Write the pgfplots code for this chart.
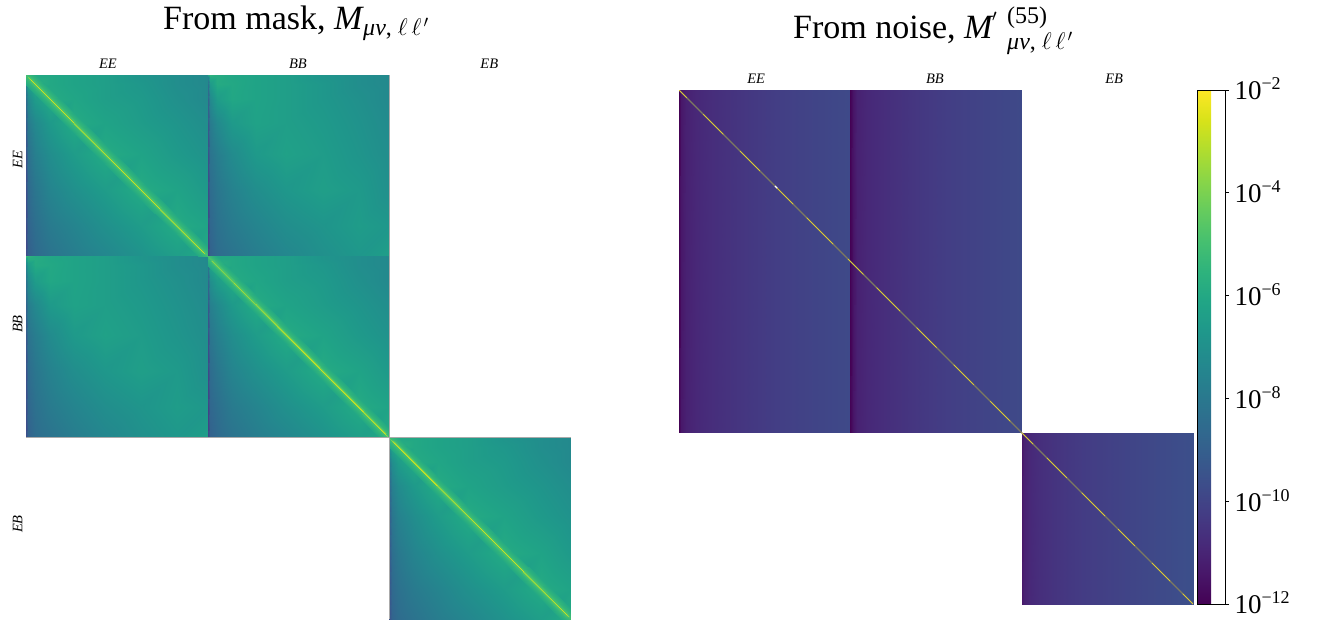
\documentclass[border=0pt]{standalone}
\usepackage{fix-cm}
\usepackage{fontspec}
\setmainfont{Liberation Serif}
\usepackage{pgfplots}
\usepackage{pgfplotstable}
\pgfplotsset{compat=1.18}
% thin ridge along the main diagonal of a diagonal block
\pgfplotstableread{
x y c
0 0 -5.0
0 0 -5.0
0 0 -5.0
0 0 -5.0
0 0 -5.0
0 0 -5.0
0 0 -5.0
0 16 -6.0
5 11 -5.35
7 9 -4.7
8 8 -2.7
9 7 -4.7
11 5 -5.35
16 0 -5.95
142 158 -6.0
147 153 -5.35
149 151 -4.7
150 150 -2.7
151 149 -4.7
153 147 -5.35
158 142 -5.95
284 300 -6.0
289 295 -5.35
291 293 -4.7
292 292 -2.7
293 291 -4.7
295 289 -5.35
300 284 -5.95
300 300 -5.0
300 300 -5.0
300 300 -5.0
300 300 -5.0
300 300 -5.0
300 300 -5.0
300 300 -5.0
}\bandtable
\pgfplotsset{
  blockstyle/.style={surf,shader=interp,mesh/cols=#1,point meta=explicit,forget plot},
  bandstyle/.style={surf,shader=interp,mesh/cols=7,point meta=explicit,forget plot},
  viridisaxis/.style={
    scale only axis,anchor=south west,xmin=0,xmax=900,ymin=0,ymax=900,y dir=reverse,
    colormap/viridis,point meta min=-12,point meta max=-2,
    axis line style={draw=none},
    xticklabel pos=top,
    xticklabels={\textit{EE},\textit{BB},\textit{EB}},
    major tick length=0pt,
    xticklabel style={font=\fontsize{14.5}{14.5}\selectfont,yshift=3pt},
  }
}
\newcommand{\cbl}[1]{10\smash{\raisebox{10pt}{\fontsize{18}{18}\selectfont −#1}}}
\newcommand{\subtxt}{\textit{μν}{,}\kern6pt$\ell$\kern4pt$\ell$\kern2pt$^{\prime}$}
\begin{document}
\begin{tikzpicture}[x=1pt,y=1pt]
\useasboundingbox (0,0) rectangle (1322,624);
\node[anchor=base west,inner sep=0pt,font=\fontsize{34}{40}\selectfont] at (163,594) {From mask, \textit{M}};
\node[anchor=base west,inner sep=0pt,font=\fontsize{24}{28}\selectfont] at (363,588) {\subtxt};
\node[anchor=base west,inner sep=0pt,font=\fontsize{34}{40}\selectfont] at (793,585) {From noise, \textit{M}};
\node[anchor=base west,inner sep=0pt,font=\fontsize{24}{28}\selectfont] at (992,594) {$^{\prime}$};
\node[anchor=base west,inner sep=0pt,font=\fontsize{24}{28}\selectfont] at (1007,600) {(55)};
\node[anchor=base west,inner sep=0pt,font=\fontsize{24}{28}\selectfont] at (1007,574) {\subtxt};
\begin{axis}[viridisaxis,at={(26pt,5pt)},width=545pt,height=544pt,
  xtick={135.4,449,765},ytick={135.6,407,738},
  yticklabels={\textit{EE},\textit{BB},\textit{EB}},
  yticklabel style={font=\fontsize{14.5}{14.5}\selectfont,rotate=90,anchor=south,xshift=-3pt},
]
% EE x EE
\addplot[blockstyle=9] coordinates {
(0,0)[-5.2] (4,0)[-5.9] (15,0)[-6.0] (40,0)[-6.05] (80,0)[-6.2] (130,0)[-6.4] (190,0)[-6.8] (250,0)[-7.1] (300,0)[-7.3]
(0,4)[-6.2] (4,4)[-5.5] (15,4)[-5.95] (40,4)[-6.0] (80,4)[-6.2] (130,4)[-6.4] (190,4)[-6.8] (250,4)[-7.1] (300,4)[-7.3]
(0,15)[-7.5] (4,15)[-6.3] (15,15)[-5.7] (40,15)[-6.0] (80,15)[-6.2] (130,15)[-6.4] (190,15)[-6.7] (250,15)[-7.1] (300,15)[-7.3]
(0,40)[-8.4] (4,40)[-7.3] (15,40)[-6.5] (40,40)[-5.9] (80,40)[-6.1] (130,40)[-6.4] (190,40)[-6.6] (250,40)[-7.0] (300,40)[-7.3]
(0,80)[-9.0] (4,80)[-7.9] (15,80)[-7.3] (40,80)[-6.6] (80,80)[-5.9] (130,80)[-6.2] (190,80)[-6.5] (250,80)[-6.8] (300,80)[-7.1]
(0,130)[-9.4] (4,130)[-8.3] (15,130)[-7.7] (40,130)[-7.1] (80,130)[-6.5] (130,130)[-5.9] (190,130)[-6.2] (250,130)[-6.6] (300,130)[-6.9]
(0,190)[-9.6] (4,190)[-8.6] (15,190)[-8.1] (40,190)[-7.5] (80,190)[-7.0] (130,190)[-6.5] (190,190)[-5.9] (250,190)[-6.2] (300,190)[-6.6]
(0,250)[-9.7] (4,250)[-8.8] (15,250)[-8.4] (40,250)[-7.9] (80,250)[-7.5] (130,250)[-7.0] (190,250)[-6.5] (250,250)[-5.9] (300,250)[-6.2]
(0,300)[-9.8] (4,300)[-9.0] (15,300)[-8.6] (40,300)[-8.2] (80,300)[-7.8] (130,300)[-7.4] (190,300)[-6.9] (250,300)[-6.4] (300,300)[-5.9]
};
% BB column, EE row
\addplot[blockstyle=9,x filter/.expression={x+300}] coordinates {
(0,0)[-6.0] (4,0)[-5.5] (15,0)[-5.85] (40,0)[-6.05] (80,0)[-6.2] (130,0)[-6.4] (190,0)[-6.8] (250,0)[-7.1] (300,0)[-7.3]
(0,4)[-7.5] (4,4)[-5.9] (15,4)[-5.85] (40,4)[-6.05] (80,4)[-6.2] (130,4)[-6.4] (190,4)[-6.8] (250,4)[-7.1] (300,4)[-7.3]
(0,15)[-8.3] (4,15)[-6.6] (15,15)[-5.9] (40,15)[-6.0] (80,15)[-6.2] (130,15)[-6.4] (190,15)[-6.7] (250,15)[-7.1] (300,15)[-7.3]
(0,40)[-8.8] (4,40)[-7.3] (15,40)[-6.5] (40,40)[-6.05] (80,40)[-6.2] (130,40)[-6.4] (190,40)[-6.7] (250,40)[-7.0] (300,40)[-7.3]
(0,80)[-9.2] (4,80)[-7.9] (15,80)[-7.3] (40,80)[-6.6] (80,80)[-6.25] (130,80)[-6.4] (190,80)[-6.6] (250,80)[-6.9] (300,80)[-7.2]
(0,130)[-9.5] (4,130)[-8.2] (15,130)[-7.8] (40,130)[-7.2] (80,130)[-6.6] (130,130)[-6.3] (190,130)[-6.5] (250,130)[-6.8] (300,130)[-7.1]
(0,190)[-9.7] (4,190)[-8.5] (15,190)[-8.1] (40,190)[-7.6] (80,190)[-7.1] (130,190)[-6.7] (190,190)[-6.4] (250,190)[-6.6] (300,190)[-7.0]
(0,250)[-9.8] (4,250)[-8.7] (15,250)[-8.3] (40,250)[-7.9] (80,250)[-7.5] (130,250)[-7.1] (190,250)[-6.8] (250,250)[-6.5] (300,250)[-6.7]
(0,300)[-10.0] (4,300)[-8.9] (15,300)[-8.5] (40,300)[-8.2] (80,300)[-7.8] (130,300)[-7.4] (190,300)[-7.0] (250,300)[-6.7] (300,300)[-6.4]
};
% EE column, BB row
\addplot[blockstyle=9,y filter/.expression={y+300}] coordinates {
(0,0)[-5.2] (4,0)[-5.5] (15,0)[-5.85] (40,0)[-6.05] (80,0)[-6.2] (130,0)[-6.4] (190,0)[-6.8] (250,0)[-7.1] (300,0)[-7.3]
(0,4)[-6.5] (4,4)[-5.8] (15,4)[-5.85] (40,4)[-6.05] (80,4)[-6.2] (130,4)[-6.4] (190,4)[-6.8] (250,4)[-7.1] (300,4)[-7.3]
(0,15)[-7.5] (4,15)[-6.5] (15,15)[-5.9] (40,15)[-6.0] (80,15)[-6.2] (130,15)[-6.4] (190,15)[-6.7] (250,15)[-7.1] (300,15)[-7.3]
(0,40)[-8.2] (4,40)[-7.2] (15,40)[-6.5] (40,40)[-6.05] (80,40)[-6.2] (130,40)[-6.4] (190,40)[-6.7] (250,40)[-7.0] (300,40)[-7.3]
(0,80)[-8.8] (4,80)[-7.8] (15,80)[-7.3] (40,80)[-6.6] (80,80)[-6.25] (130,80)[-6.4] (190,80)[-6.6] (250,80)[-6.9] (300,80)[-7.2]
(0,130)[-9.2] (4,130)[-8.2] (15,130)[-7.8] (40,130)[-7.2] (80,130)[-6.6] (130,130)[-6.3] (190,130)[-6.5] (250,130)[-6.8] (300,130)[-7.1]
(0,190)[-9.5] (4,190)[-8.5] (15,190)[-8.1] (40,190)[-7.6] (80,190)[-7.1] (130,190)[-6.7] (190,190)[-6.4] (250,190)[-6.6] (300,190)[-7.0]
(0,250)[-9.6] (4,250)[-8.7] (15,250)[-8.3] (40,250)[-7.9] (80,250)[-7.5] (130,250)[-7.1] (190,250)[-6.8] (250,250)[-6.5] (300,250)[-6.7]
(0,300)[-9.7] (4,300)[-8.9] (15,300)[-8.5] (40,300)[-8.2] (80,300)[-7.8] (130,300)[-7.4] (190,300)[-7.0] (250,300)[-6.7] (300,300)[-6.4]
};
% BB x BB
\addplot[blockstyle=9,x filter/.expression={x+300},y filter/.expression={y+300}] coordinates {
(0,0)[-5.2] (4,0)[-5.9] (15,0)[-6.0] (40,0)[-6.05] (80,0)[-6.2] (130,0)[-6.4] (190,0)[-6.8] (250,0)[-7.1] (300,0)[-7.3]
(0,4)[-7.0] (4,4)[-5.5] (15,4)[-5.95] (40,4)[-6.0] (80,4)[-6.2] (130,4)[-6.4] (190,4)[-6.8] (250,4)[-7.1] (300,4)[-7.3]
(0,15)[-8.0] (4,15)[-6.2] (15,15)[-5.7] (40,15)[-6.0] (80,15)[-6.2] (130,15)[-6.4] (190,15)[-6.7] (250,15)[-7.1] (300,15)[-7.3]
(0,40)[-8.7] (4,40)[-7.1] (15,40)[-6.5] (40,40)[-5.9] (80,40)[-6.1] (130,40)[-6.4] (190,40)[-6.6] (250,40)[-7.0] (300,40)[-7.3]
(0,80)[-9.2] (4,80)[-7.7] (15,80)[-7.3] (40,80)[-6.6] (80,80)[-5.9] (130,80)[-6.2] (190,80)[-6.5] (250,80)[-6.8] (300,80)[-7.1]
(0,130)[-9.6] (4,130)[-8.1] (15,130)[-7.7] (40,130)[-7.1] (80,130)[-6.5] (130,130)[-5.9] (190,130)[-6.2] (250,130)[-6.6] (300,130)[-6.9]
(0,190)[-9.8] (4,190)[-8.5] (15,190)[-8.1] (40,190)[-7.5] (80,190)[-7.0] (130,190)[-6.5] (190,190)[-5.9] (250,190)[-6.2] (300,190)[-6.6]
(0,250)[-10.0] (4,250)[-8.7] (15,250)[-8.4] (40,250)[-7.9] (80,250)[-7.5] (130,250)[-7.0] (190,250)[-6.5] (250,250)[-5.9] (300,250)[-6.2]
(0,300)[-10.0] (4,300)[-8.9] (15,300)[-8.6] (40,300)[-8.2] (80,300)[-7.8] (130,300)[-7.4] (190,300)[-6.9] (250,300)[-6.4] (300,300)[-5.9]
};
% EB x EB
\addplot[blockstyle=9,x filter/.expression={x+600},y filter/.expression={y+600}] coordinates {
(0,0)[-5.2] (4,0)[-5.9] (15,0)[-6.0] (40,0)[-6.05] (80,0)[-6.2] (130,0)[-6.4] (190,0)[-6.8] (250,0)[-7.1] (300,0)[-7.3]
(0,4)[-6.2] (4,4)[-5.5] (15,4)[-5.95] (40,4)[-6.0] (80,4)[-6.2] (130,4)[-6.4] (190,4)[-6.8] (250,4)[-7.1] (300,4)[-7.3]
(0,15)[-7.2] (4,15)[-6.2] (15,15)[-5.7] (40,15)[-6.0] (80,15)[-6.2] (130,15)[-6.4] (190,15)[-6.7] (250,15)[-7.1] (300,15)[-7.3]
(0,40)[-8.0] (4,40)[-7.1] (15,40)[-6.5] (40,40)[-5.9] (80,40)[-6.1] (130,40)[-6.4] (190,40)[-6.6] (250,40)[-7.0] (300,40)[-7.3]
(0,80)[-8.7] (4,80)[-7.7] (15,80)[-7.2] (40,80)[-6.6] (80,80)[-5.9] (130,80)[-6.2] (190,80)[-6.5] (250,80)[-6.8] (300,80)[-7.1]
(0,130)[-9.1] (4,130)[-8.1] (15,130)[-7.6] (40,130)[-7.1] (80,130)[-6.5] (130,130)[-5.9] (190,130)[-6.2] (250,130)[-6.6] (300,130)[-6.9]
(0,190)[-9.3] (4,190)[-8.4] (15,190)[-8.0] (40,190)[-7.5] (80,190)[-7.0] (130,190)[-6.5] (190,190)[-5.9] (250,190)[-6.2] (300,190)[-6.6]
(0,250)[-9.4] (4,250)[-8.6] (15,250)[-8.3] (40,250)[-7.9] (80,250)[-7.5] (130,250)[-7.0] (190,250)[-6.5] (250,250)[-5.9] (300,250)[-6.2]
(0,300)[-9.5] (4,300)[-8.8] (15,300)[-8.5] (40,300)[-8.2] (80,300)[-7.8] (130,300)[-7.4] (190,300)[-6.9] (250,300)[-6.4] (300,300)[-5.9]
};
% diagonal ridges
\addplot[bandstyle] table[x=x,y=y,meta=c] {\bandtable};
\addplot[bandstyle,x filter/.expression={x+300},y filter/.expression={y+300}] table[x=x,y=y,meta=c] {\bandtable};
\addplot[bandstyle,x filter/.expression={x+600},y filter/.expression={y+600}] table[x=x,y=y,meta=c] {\bandtable};
% pale seams at the edge of the 2x2 block
\addplot[forget plot,draw={rgb,255:red,170;green,170;blue,170},line width=0.8pt] coordinates {(0,600) (900,600)};
\addplot[forget plot,draw={rgb,255:red,170;green,170;blue,170},line width=0.8pt] coordinates {(600,0) (600,900)};
\end{axis}
\begin{axis}[viridisaxis,at={(679pt,20pt)},width=514pt,height=514pt,
  xtick={135,448,762},ytick=\empty,
  colorbar,
  colorbar style={
    at={(1.00778,1)},anchor=north west,width=28pt,
    axis line style={draw=black,line width=0.7pt},
    ytick={-12,-10,-8,-6,-4,-2},
    yticklabels={\cbl{12},\cbl{10},\cbl{8},\cbl{6},\cbl{4},\cbl{2}},
    yticklabel style={font=\fontsize{27}{27}\selectfont,xshift=2pt,yshift=-1pt},
    yticklabel pos=right,
    major tick length=4pt,
    tick style={draw=black,line width=0.7pt},
    tick align=outside,
    ytick pos=right,
    xticklabel pos=bottom,
  },
]
% EE column, all rows of EE and BB
\addplot[blockstyle=8] coordinates {
(0,0)[-12.0] (4,0)[-11.4] (12,0)[-11.1] (30,0)[-10.9] (60,0)[-10.7] (110,0)[-10.45] (180,0)[-10.15] (300,0)[-9.8]
(0,600)[-12.0] (4,600)[-11.4] (12,600)[-11.1] (30,600)[-10.9] (60,600)[-10.7] (110,600)[-10.45] (180,600)[-10.15] (300,600)[-9.8]
};
% BB column
\addplot[blockstyle=8] coordinates {
(300,0)[-12.0] (304,0)[-11.5] (312,0)[-11.1] (330,0)[-10.9] (360,0)[-10.7] (410,0)[-10.45] (480,0)[-10.15] (600,0)[-9.8]
(300,600)[-12.0] (304,600)[-11.5] (312,600)[-11.1] (330,600)[-10.9] (360,600)[-10.7] (410,600)[-10.45] (480,600)[-10.15] (600,600)[-9.8]
};
% EB block
\addplot[blockstyle=8] coordinates {
(600,600)[-11.4] (604,600)[-11.1] (612,600)[-10.9] (630,600)[-10.7] (660,600)[-10.5] (710,600)[-10.25] (780,600)[-10.0] (900,600)[-9.6]
(600,900)[-11.4] (604,900)[-11.1] (612,900)[-10.9] (630,900)[-10.7] (660,900)[-10.5] (710,900)[-10.25] (780,900)[-10.0] (900,900)[-9.6]
};
% diagonal: faint base with bright stretches
\addplot[forget plot,draw={rgb,255:red,125;green,122;blue,96},line width=1.2pt] coordinates {(0,0) (900,900)};
\addplot[forget plot,draw={rgb,255:red,245;green,222;blue,40},line width=0.7pt,unbounded coords=jump] coordinates {
(0,0) (13.4,13.4) (13.4,nan)
(42.6,42.6) (77.6,77.6) (77.6,nan)
(106.9,106.9) (141.8,141.8) (141.8,nan)
(172,172) (200,200) (200,nan)
(223.5,223.5) (270,270) (270,nan)
(296,296) (323,323) (323,nan)
(346,346) (387,387) (387,nan)
(416,416) (451,451) (451,nan)
(481,481) (516,516) (516,nan)
(545,545) (580,580) (580,nan)
(600,600) (620,620) (620,nan)
(644,644) (679,679) (679,nan)
(705,705) (746,746) (746,nan)
(769,769) (798,798) (798,nan)
(828,828) (860,860) (860,nan)
(882,882) (900,900)
};
\addplot[forget plot,draw=white,line width=1.2pt] coordinates {(168,168) (172,172)};
\end{axis}
\end{tikzpicture}
\end{document}
